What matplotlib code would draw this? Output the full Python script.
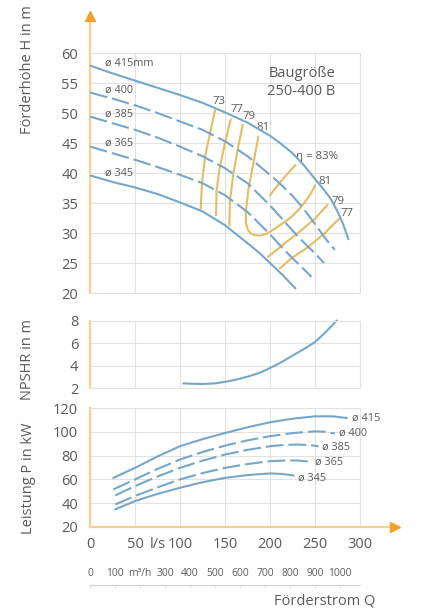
import matplotlib
matplotlib.use("Agg")
import matplotlib.pyplot as plt

# ── Style ──────────────────────────────────────────────────────────────────────
plt.rcParams.update({
    "font.family": ["Open Sans", "DejaVu Sans"],
    "font.size": 10,
    "text.color": "#5a5a5a",
    "xtick.color": "#5a5a5a",
    "ytick.color": "#5a5a5a",
})

BLUE = "#76a7cb"
GOLD = "#e6bc62"
GRID = "#e2e2e2"
AXIS = "#f8d08f"
ARROW = "#f5a02a"
DASH = (8.5, 2.4)

# ── Data: Förderhöhe H (m) over Q (l/s) ─────────────────────────────────────────
h_q415 = [0, 25, 50, 75, 100, 125, 150, 175, 200, 212, 225, 237, 250, 260, 267, 275, 281, 287]
h_h415 = [57.9, 56.6, 55.4, 54.2, 53.0, 51.7, 50.1, 48.4, 46.2, 44.9, 43.3, 41.4, 39.0,
          37.2, 35.8, 33.6, 31.6, 29.0]
h_q400 = [0, 25, 50, 75, 100, 125, 150, 175, 200, 212, 225, 237, 250, 262, 272]
h_h400 = [53.4, 52.4, 51.3, 50.0, 48.6, 47.2, 45.3, 42.8, 39.7, 38.1, 36.2, 34.1, 31.5,
          29.0, 27.2]
h_q385 = [0, 25, 50, 75, 100, 125, 150, 175, 200, 212, 225, 237, 250, 260]
h_h385 = [49.4, 48.3, 47.2, 45.9, 44.4, 42.8, 40.8, 38.3, 34.6, 32.6, 30.4, 28.5, 26.6, 25.0]
h_q365 = [0, 25, 50, 75, 100, 125, 150, 175, 200, 212, 225, 236, 246]
h_h365 = [44.4, 43.3, 42.2, 41.0, 39.7, 38.3, 36.3, 33.5, 29.8, 27.8, 25.8, 24.2, 22.7]
h_q345 = [0, 25, 50, 75, 100, 125, 150, 175, 188, 200, 214, 228]
h_h345 = [39.6, 38.5, 37.6, 36.5, 35.1, 33.6, 31.3, 28.3, 26.7, 25.0, 23.0, 20.8]

diam_labels = ["ø 415mm", "ø 400", "ø 385", "ø 365", "ø 345"]
diam_label_h = [58.3, 53.8, 49.8, 45.0, 40.0]
diam_dashed = [False, True, True, True, False]

# iso-efficiency lines
eta73_q = [138.9, 133.3, 127.8, 124.4, 123.0]
eta73_h = [50.4, 46.6, 42.7, 38.3, 34.1]
eta77_q = [156.3, 150.0, 144.4, 140.7, 140.0]
eta77_h = [48.9, 45.0, 41.1, 37.2, 33.0]
eta79_q = [169.6, 164.0, 159.3, 155.6, 154.8]
eta79_h = [48.0, 43.8, 39.9, 35.5, 31.3]
eta81_q = [187, 181.5, 176, 173, 173.3, 175.5, 179, 184, 190, 197, 206, 215, 224, 232, 239, 245, 250]
eta81_h = [46.0, 41.6, 37.2, 33.3, 31.6, 30.5, 29.9, 29.6, 29.6, 29.9, 30.8, 31.7, 32.7,
           33.9, 35.2, 36.5, 37.9]
eta83_q = [228, 214.8, 200]
eta83_h = [41.3, 39.1, 36.3]
eta79r_q = [264, 250, 235.2, 216.7, 198]
eta79r_h = [34.7, 32.4, 30.5, 28.3, 26.05]
eta77r_q = [277, 261, 242.6, 224, 211]
eta77r_h = [32.4, 30.0, 27.7, 25.8, 24.1]

eta_labels = ["73", "77", "79", "81", "81", "79", "77"]
eta_label_q = [143.7, 163, 177, 192.6, 261, 275.4, 285.5]
eta_label_h = [51.9, 50.6, 49.4, 47.6, 38.55, 35.3, 33.3]

# NPSHR (m)
npsh_q = [104, 115, 126, 140, 152, 165, 178, 190, 200, 213, 226, 238, 250, 262, 274]
npsh_m = [2.44, 2.40, 2.38, 2.45, 2.6, 2.82, 3.1, 3.42, 3.8, 4.33, 4.95, 5.5, 6.1, 7.0, 8.0]

# Leistung P (kW)
p_q415 = [26, 50, 75, 100, 125, 150, 175, 200, 225, 250, 270, 285]
p_p415 = [61.3, 69.7, 79.3, 87.9, 93.8, 99.0, 103.8, 108.0, 111.0, 113.0, 113.0, 111.6]
p_q400 = [26, 50, 75, 100, 125, 150, 175, 200, 225, 250, 262, 272]
p_p400 = [51.6, 60.0, 68.8, 76.7, 83.0, 88.4, 92.8, 96.3, 98.9, 100.4, 100.0, 98.5]
p_q385 = [28, 50, 75, 100, 125, 150, 175, 200, 215, 230, 243, 254]
p_p385 = [46.5, 54.4, 62.4, 69.7, 75.7, 80.9, 84.8, 87.9, 88.9, 89.3, 88.9, 87.9]
p_q365 = [28, 50, 75, 100, 125, 150, 175, 200, 215, 230, 246]
p_p365 = [39.0, 46.0, 53.3, 60.0, 65.3, 69.7, 72.9, 75.3, 75.8, 75.9, 74.8]
p_q345 = [28, 50, 75, 100, 125, 150, 175, 190, 200, 213, 226]
p_p345 = [34.8, 41.8, 47.8, 53.0, 57.6, 61.3, 63.6, 64.5, 65.0, 64.6, 63.3]

p_labels = ["ø 415", "ø 400", "ø 385", "ø 365", "ø 345"]
p_label_q = [290.7, 277, 257.4, 250, 230.7]
p_label_p = [111.6, 98.5, 87.0, 74.5, 61.3]

q_ticks = [0, 50, 100, 150, 200, 250, 300]
m3h_ticks = [0, 100, 200, 300, 400, 500, 600, 700, 800, 900, 1000]
m3h_labels = ["0", "100", "m³/h", "300", "400", "500", "600", "700", "800", "900", "1000"]

W, H = 430, 612


def frame(ax, ylim, yticks):
    ax.set_xlim(0, 300)
    ax.set_ylim(*ylim)
    ax.set_xticks(q_ticks)
    ax.set_yticks(yticks)
    ax.grid(True, color=GRID, lw=0.8)
    ax.set_axisbelow(True)
    for s in ("top", "right", "bottom"):
        ax.spines[s].set_color(GRID)
        ax.spines[s].set_linewidth(0.8)
    ax.spines["left"].set_color(AXIS)
    ax.spines["left"].set_linewidth(1.6)
    ax.tick_params(which="both", length=0, pad=8.5, labelsize=10.5)
    ax.tick_params(axis="x", which="both", labelbottom=False)


fig = plt.figure(figsize=(W / 100, H / 100), dpi=100)

ax_h = fig.add_axes([90 / W, 1 - 293 / H, 270 / W, 240 / H])
ax_n = fig.add_axes([90 / W, 1 - 388.3 / H, 270 / W, 67.6 / H])
ax_p = fig.add_axes([90 / W, 1 - 527 / H, 270 / W, 119 / H])
ax_m = fig.add_axes([90 / W, 1 - 585 / H, 270 / W, 0.0001])

# ── H-Q chart ──────────────────────────────────────────────────────────────────
frame(ax_h, (20, 60), range(20, 61, 5))

for q, h in [(eta73_q, eta73_h), (eta77_q, eta77_h), (eta79_q, eta79_h),
             (eta81_q, eta81_h), (eta83_q, eta83_h), (eta79r_q, eta79r_h),
             (eta77r_q, eta77r_h)]:
    ax_h.plot(q, h, color=GOLD, lw=1.5, zorder=3)

h_curves = [(h_q415, h_h415), (h_q400, h_h400), (h_q385, h_h385),
            (h_q365, h_h365), (h_q345, h_h345)]
for (q, h), dashed in zip(h_curves, diam_dashed):
    if dashed:
        ax_h.plot(q, h, color=BLUE, lw=1.5, dashes=DASH, zorder=4)
    else:
        ax_h.plot(q, h, color=BLUE, lw=1.5, zorder=4)

for lab, y in zip(diam_labels, diam_label_h):
    ax_h.text(16.7, y, lab, fontsize=7.8, ha="left", va="center")

for lab, q, h in zip(eta_labels, eta_label_q, eta_label_h):
    ax_h.text(q, h, lab, fontsize=8.2, ha="center", va="center")
ax_h.text(228.5, 42.8, "η = 83%", fontsize=8.2, ha="left", va="center")

ax_h.text(235, 55.1, "Baugröße\n250-400 B", fontsize=10.5, ha="center",
          va="center", linespacing=1.25)

# vertical axis arrow
ax_h.plot([0, 0], [1, 1.135], color=AXIS, lw=1.6, transform=ax_h.transAxes,
          clip_on=False)
ax_h.plot([0], [1.153], marker="^", color=ARROW, markersize=7,
          transform=ax_h.transAxes, clip_on=False)

# ── NPSHR chart ────────────────────────────────────────────────────────────────
frame(ax_n, (2, 8), [2, 4, 6, 8])
ax_n.plot(npsh_q, npsh_m, color=BLUE, lw=1.5, clip_on=False)

# ── Power chart ────────────────────────────────────────────────────────────────
frame(ax_p, (20, 120), range(20, 121, 20))
ax_p.tick_params(axis="x", which="both", labelbottom=True, pad=7)
ax_p.set_xticklabels([str(v) for v in q_ticks])
ax_p.set_xticks([75], minor=True)
ax_p.set_xticklabels(["l/s"], minor=True)
ax_p.spines["bottom"].set_visible(False)
ax_p.plot([0, 1.13], [0, 0], color=AXIS, lw=1.6, transform=ax_p.transAxes,
          clip_on=False, zorder=5)
ax_p.plot([1.13], [0], marker=">", color=ARROW, markersize=7,
          transform=ax_p.transAxes, clip_on=False, zorder=5)

p_curves = [(p_q415, p_p415), (p_q400, p_p400), (p_q385, p_p385),
            (p_q365, p_p365), (p_q345, p_p345)]
for (q, p), dashed in zip(p_curves, diam_dashed):
    if dashed:
        ax_p.plot(q, p, color=BLUE, lw=1.5, dashes=DASH, clip_on=False)
    else:
        ax_p.plot(q, p, color=BLUE, lw=1.5, clip_on=False)

for lab, q, p in zip(p_labels, p_label_q, p_label_p):
    ax_p.text(q, p, lab, fontsize=7.8, ha="left", va="center", clip_on=False)

# ── m³/h scale ─────────────────────────────────────────────────────────────────
ax_m.set_xlim(0, 300)
ax_m.set_ylim(0, 1)
ax_m.set_yticks([])
ax_m.patch.set_visible(False)
for s in ("bottom", "left", "right"):
    ax_m.spines[s].set_visible(False)
ax_m.spines["top"].set_color("#d4d4d4")
ax_m.spines["top"].set_linewidth(0.8)
ax_m.xaxis.tick_top()
ax_m.set_xticks([v / 3.6 for v in m3h_ticks])
ax_m.set_xticklabels(m3h_labels)
ax_m.tick_params(axis="x", direction="in", length=2.5, width=0.6,
                 color="#d4d4d4", labelsize=7.4, pad=4)

# ── Axis titles ────────────────────────────────────────────────────────────────
fig.text(27.5 / W, 1 - 70 / H, "Förderhöhe H in m", rotation=90,
         ha="center", va="center", fontsize=10.5)
fig.text(28 / W, 1 - 359 / H, "NPSHR in m", rotation=90,
         ha="center", va="center", fontsize=10.5)
fig.text(28 / W, 1 - 478 / H, "Leistung P in kW", rotation=90,
         ha="center", va="center", fontsize=10.5)
fig.text(375 / W, 1 - 601 / H, "Förderstrom Q", ha="right", va="center",
         fontsize=10.5)

fig.savefig("out.png", dpi=100)
